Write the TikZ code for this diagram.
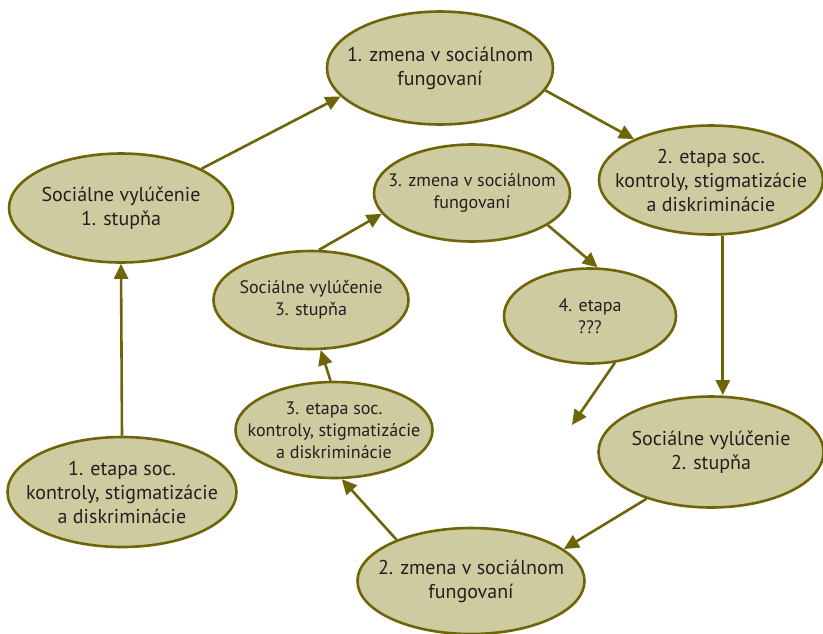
\documentclass[tikz,border=0pt]{standalone}
\usepackage{fontspec}
\setmainfont{PT Sans}
\usetikzlibrary{shapes.geometric,arrows.meta}
\definecolor{olive}{RGB}{110,101,8}
\definecolor{khaki}{RGB}{207,203,161}
\definecolor{txt}{RGB}{35,31,32}
\tikzset{
  bub/.style={ellipse, draw=olive, fill=khaki, line width=2.6pt, inner sep=-40pt,
    text=txt, align=center, font=\fontsize{20}{24}\selectfont},
  smallbub/.style={bub, font=\fontsize{18}{22}\selectfont},
  arr/.style={draw=olive, line width=2.6pt, -{Triangle[length=15pt,width=14pt]}},
}
\begin{document}
\begin{tikzpicture}[x=1pt,y=-1pt]
\useasboundingbox (0,0) rectangle (823,633);
\node[bub, minimum width=226pt, minimum height=113pt] (zmena1) at (440,68) {1. zmena v sociálnom\\fungovaní};
\node[bub, minimum width=224pt, minimum height=109pt] (etapa2) at (711,180) {2. etapa soc.\\kontroly, stigmatizácie\\a diskriminácie};
\node[bub, minimum width=224pt, minimum height=109pt] (soc1) at (121,208) {Sociálne vylúčenie\\1. stupňa};
\node[bub, minimum width=229pt, minimum height=110pt] (etapa1) at (122,492) {1. etapa soc.\\kontroly, stigmatizácie\\a diskriminácie};
\node[bub, minimum width=225pt, minimum height=111pt] (soc2) at (711,452) {Sociálne vylúčenie\\2. stupňa};
\node[bub, minimum width=227pt, minimum height=106pt] (zmena2) at (471,581) {2. zmena v sociálnom\\fungovaní};
\node[smallbub, minimum width=196pt, minimum height=97pt] (zmena3) at (472,193) {3. zmena v sociálnom\\fungovaní};
\node[smallbub, minimum width=195pt, minimum height=98pt] (soc3) at (311,300) {Sociálne vylúčenie\\3. stupňa};
\node[smallbub, minimum width=172pt, minimum height=95pt] (etapa4) at (590,316) {4. etapa\\???};
\node[smallbub, minimum width=197pt, minimum height=96pt] (etapa3) at (334,430) {3. etapa soc.\\kontroly, stigmatizácie\\a diskriminácie};
\coordinate (free) at (572,425);
\draw[arr] (etapa1.north) -- (soc1.south);
\draw[arr] (soc1.26) -- (zmena1.196.7);
\draw[arr] (zmena1.-12) -- (etapa2.152.6);
\draw[arr] (etapa2.-78.5) -- (etapa2.-78.5 |- soc2.north);
\draw[arr] (soc2.216.9) -- (zmena2.19.3);
\draw[arr] (zmena2.151) -- (etapa3.-81.4);
\draw[arr] (etapa3.94.8) -- (soc3.-79.6);
\draw[arr] (soc3.81.9) -- (zmena3.193.2);
\draw[arr] (zmena3.-23.5) -- (etapa4.81.7);
\draw[arr] (etapa4.-62.5) -- (free);
\end{tikzpicture}
\end{document}
